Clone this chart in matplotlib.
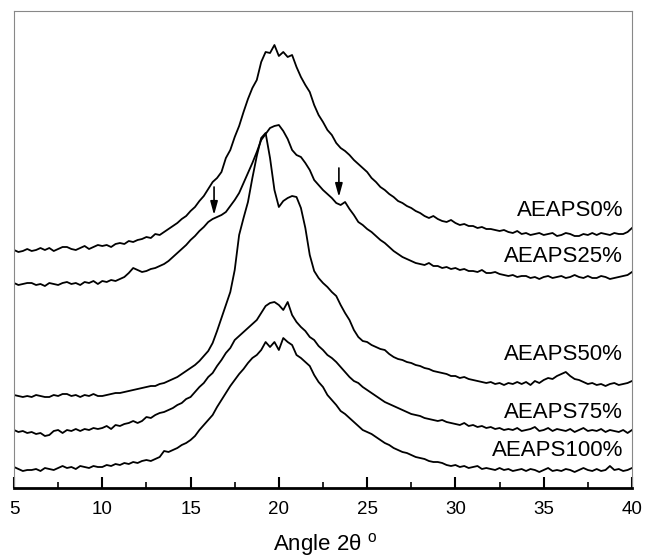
import numpy as np
import matplotlib
matplotlib.use("Agg")
import matplotlib.pyplot as plt

plt.rcParams['font.family'] = ['Liberation Sans', 'DejaVu Sans']
plt.rcParams['mathtext.fontset'] = 'custom'
plt.rcParams['mathtext.rm'] = 'Liberation Sans'

# 2-theta grid, 0.25 degree steps from 5 to 40
angle = np.arange(141) * 0.25 + 5.0

aeaps0 = [
    238, 236, 237, 239, 237, 238, 240, 238, 240, 237, 239, 241, 241, 239, 238, 240,
    242, 239, 241, 243, 242, 243, 241, 244, 245, 244, 247, 246, 248, 249, 251, 250,
    254, 253, 256, 259, 262, 265, 269, 272, 277, 281, 287, 292, 299, 306, 310, 316,
    330, 338, 351, 362, 376, 389, 400, 408, 426, 436, 435, 443, 432, 436, 431, 433,
    421, 411, 403, 396, 383, 373, 366, 358, 353, 345, 340, 337, 333, 328, 324, 320,
    316, 310, 306, 301, 298, 294, 291, 287, 285, 282, 280, 277, 275, 272, 270, 272,
    269, 267, 266, 268, 265, 263, 264, 262, 262, 260, 261, 259, 259, 258, 257, 258,
    256, 255, 257, 254, 255, 253, 254, 255, 253, 254, 255, 252, 253, 255, 254, 252,
    252, 254, 253, 255, 253, 255, 254, 253, 255, 254, 254, 256, 260]

aeaps25 = [
    205, 203, 204, 205, 205, 203, 204, 202, 205, 204, 203, 205, 206, 204, 205, 203,
    206, 205, 207, 204, 207, 206, 208, 207, 209, 211, 215, 220, 218, 216, 217, 219,
    220, 222, 224, 227, 231, 235, 239, 243, 248, 252, 257, 261, 266, 269, 271, 273,
    276, 282, 288, 295, 305, 315, 325, 336, 348, 354, 360, 362, 363, 357, 349, 338,
    333, 331, 325, 318, 308, 303, 298, 294, 290, 285, 283, 286, 279, 273, 266, 263,
    259, 256, 252, 248, 245, 241, 237, 234, 231, 229, 227, 225, 224, 223, 225, 222,
    222, 220, 221, 219, 220, 218, 219, 217, 217, 216, 218, 215, 215, 216, 214, 213,
    212, 213, 211, 212, 212, 210, 211, 209, 211, 212, 210, 211, 212, 210, 211, 213,
    211, 210, 212, 210, 210, 212, 211, 209, 210, 211, 212, 213, 216]

aeaps50 = [
    93, 92, 91, 92, 91, 93, 92, 91, 91, 93, 92, 94, 94, 92, 93, 91,
    93, 92, 94, 92, 92, 93, 94, 95, 95, 96, 97, 98, 99, 100, 101, 102,
    102, 104, 105, 107, 109, 111, 114, 117, 120, 123, 127, 132, 137, 145, 157, 170,
    183, 196, 218, 253, 270, 286, 310, 332, 350, 355, 330, 298, 281, 287, 290, 292,
    291, 280, 260, 233, 217, 210, 205, 201, 196, 192, 183, 175, 168, 158, 151, 147,
    146, 143, 141, 139, 138, 134, 131, 129, 128, 126, 125, 123, 122, 120, 119, 117,
    116, 115, 114, 112, 112, 110, 111, 109, 108, 107, 106, 105, 106, 104, 105, 103,
    105, 104, 106, 104, 106, 103, 107, 105, 108, 110, 109, 112, 114, 116, 112, 109,
    108, 106, 104, 105, 103, 104, 102, 104, 105, 103, 104, 105, 107]

aeaps75 = [
    58, 56, 57, 55, 56, 54, 55, 52, 53, 57, 58, 55, 58, 57, 59, 57,
    59, 58, 60, 59, 60, 62, 59, 63, 62, 64, 65, 67, 65, 67, 71, 70,
    73, 75, 76, 78, 80, 83, 85, 89, 91, 96, 101, 105, 111, 115, 122, 128,
    135, 140, 148, 152, 156, 160, 164, 168, 175, 182, 185, 186, 183, 178, 186, 173,
    166, 161, 157, 151, 148, 142, 138, 133, 130, 126, 121, 116, 111, 107, 105, 101,
    98, 95, 92, 89, 86, 84, 82, 80, 78, 76, 74, 73, 72, 70, 69, 68,
    67, 68, 66, 65, 64, 63, 65, 62, 63, 61, 62, 60, 61, 59, 60, 58,
    59, 58, 60, 57, 58, 59, 61, 57, 58, 60, 57, 59, 58, 57, 59, 56,
    58, 60, 57, 58, 57, 59, 56, 58, 57, 56, 58, 55, 58]

aeaps100 = [
    21, 19, 17, 18, 18, 19, 17, 20, 19, 18, 20, 22, 20, 21, 19, 22,
    21, 20, 22, 21, 21, 23, 22, 24, 23, 25, 24, 26, 25, 27, 28, 27,
    29, 31, 37, 36, 38, 40, 43, 45, 48, 52, 58, 63, 68, 73, 81, 88,
    95, 102, 108, 114, 119, 125, 130, 133, 138, 146, 141, 146, 138, 150, 146, 143,
    133, 130, 126, 122, 113, 106, 101, 93, 88, 83, 77, 74, 70, 66, 62, 58,
    56, 54, 51, 48, 45, 43, 40, 38, 36, 35, 33, 31, 30, 29, 27, 26,
    26, 25, 23, 22, 23, 21, 22, 20, 21, 22, 19, 20, 19, 18, 20, 18,
    19, 17, 18, 19, 17, 19, 18, 16, 18, 20, 17, 18, 17, 19, 18, 16,
    18, 20, 18, 17, 19, 17, 18, 22, 18, 19, 17, 18, 20]

series = [aeaps0, aeaps25, aeaps50, aeaps75, aeaps100]
labels = ['AEAPS0%', 'AEAPS25%', 'AEAPS50%', 'AEAPS75%', 'AEAPS100%']
label_y = [278, 231, 133, 76, 38]

# arrows on the AEAPS25% curve: (angle, tail, head)
arrows = [(16.33, 301, 273), (23.4, 320, 291)]

fig = plt.figure(figsize=(6.45, 5.58), dpi=100)
ax = fig.add_axes([14/645, 70/558, 618/645, 477/558])

for s in series:
    ax.plot(angle, s, color='black', lw=1.3)

for lab, ly in zip(labels, label_y):
    ax.text(39.5, ly, lab, ha='right', va='center', fontsize=16, color='black')

for xa, tail, head in arrows:
    ax.annotate('', xy=(xa, head), xytext=(xa, tail),
                arrowprops=dict(arrowstyle='-|>,head_length=0.8,head_width=0.22',
                                color='black', lw=1.2, shrinkA=0, shrinkB=0))

ax.set_xlim(5, 40)
ax.set_ylim(0, 477)
ax.set_xticks([5, 10, 15, 20, 25, 30, 35, 40])
ax.set_xticks(np.arange(7.5, 40, 5), minor=True)
ax.set_yticks([])
ax.tick_params(axis='x', which='major', direction='in', length=8, width=1.5,
               labelsize=13.5, pad=9)
ax.tick_params(axis='x', which='minor', direction='in', length=4, width=1.2)

for side in ['left', 'top', 'right']:
    ax.spines[side].set_color('#888888')
    ax.spines[side].set_linewidth(0.8)
ax.spines['bottom'].set_linewidth(2.0)
ax.spines['bottom'].set_color('black')

fig.text(0.504, 0.014, r'Angle 2θ $^{\rm o}$', ha='center', va='baseline', fontsize=16)

fig.savefig('out.png', dpi=100)
